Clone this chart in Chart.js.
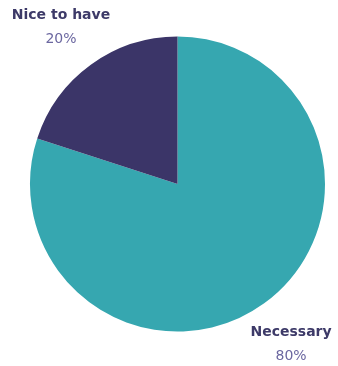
<!DOCTYPE html>
<html>
<head>
<meta charset="utf-8">
<script src="https://cdn.jsdelivr.net/npm/chart.js@4/dist/chart.umd.min.js"></script>
<style>
  html, body { margin: 0; padding: 0; background: #ffffff; }
  #wrap { width: 338px; height: 366px; }
</style>
</head>
<body>
<div id="wrap"><canvas id="pieChart" width="338" height="366"></canvas></div>
<script>
// --- Dados ---
const categories = ['Necessary', 'Nice to have'];
const shares = [80, 20];
const shareLabels = ['80%', '20%'];
const sliceColors = ['#36a7b0', '#3b3568'];

// Rótulos fora da pizza (nome em negrito + percentual)
const outsideLabels = {
    id: 'outsideLabels',
    afterDraw(chart) {
        const ctx = chart.ctx;
        const arc = chart.getDatasetMeta(0).data[0];
        const cx = arc.x, cy = arc.y, r = arc.outerRadius;
        const spots = [
            { x: cx + r * 0.77, y: cy + r * 1.005 },  // Necessary
            { x: cx - r * 0.79, y: cy - r * 1.14 }    // Nice to have
        ];
        ctx.save();
        ctx.textAlign = 'center';
        ctx.textBaseline = 'middle';
        categories.forEach((name, i) => {
            const p = spots[i];
            ctx.font = 'bold 14px "DejaVu Sans", sans-serif';
            ctx.fillStyle = '#3d3a68';
            ctx.fillText(name, p.x, p.y);
            ctx.font = '14px "DejaVu Sans", sans-serif';
            ctx.fillStyle = '#6b67a0';
            ctx.fillText(shareLabels[i], p.x, p.y + 24);
        });
        ctx.restore();
    }
};

new Chart(document.getElementById('pieChart').getContext('2d'), {
    type: 'pie',
    data: {
        labels: categories,
        datasets: [{
            data: shares,
            backgroundColor: sliceColors,
            borderWidth: 0
        }]
    },
    options: {
        responsive: false,
        animation: false,
        layout: { padding: { left: 30, right: 13, top: 36, bottom: 34 } },
        plugins: {
            legend: { display: false },
            tooltip: { enabled: false }
        }
    },
    plugins: [outsideLabels]
});
</script>
</body>
</html>
